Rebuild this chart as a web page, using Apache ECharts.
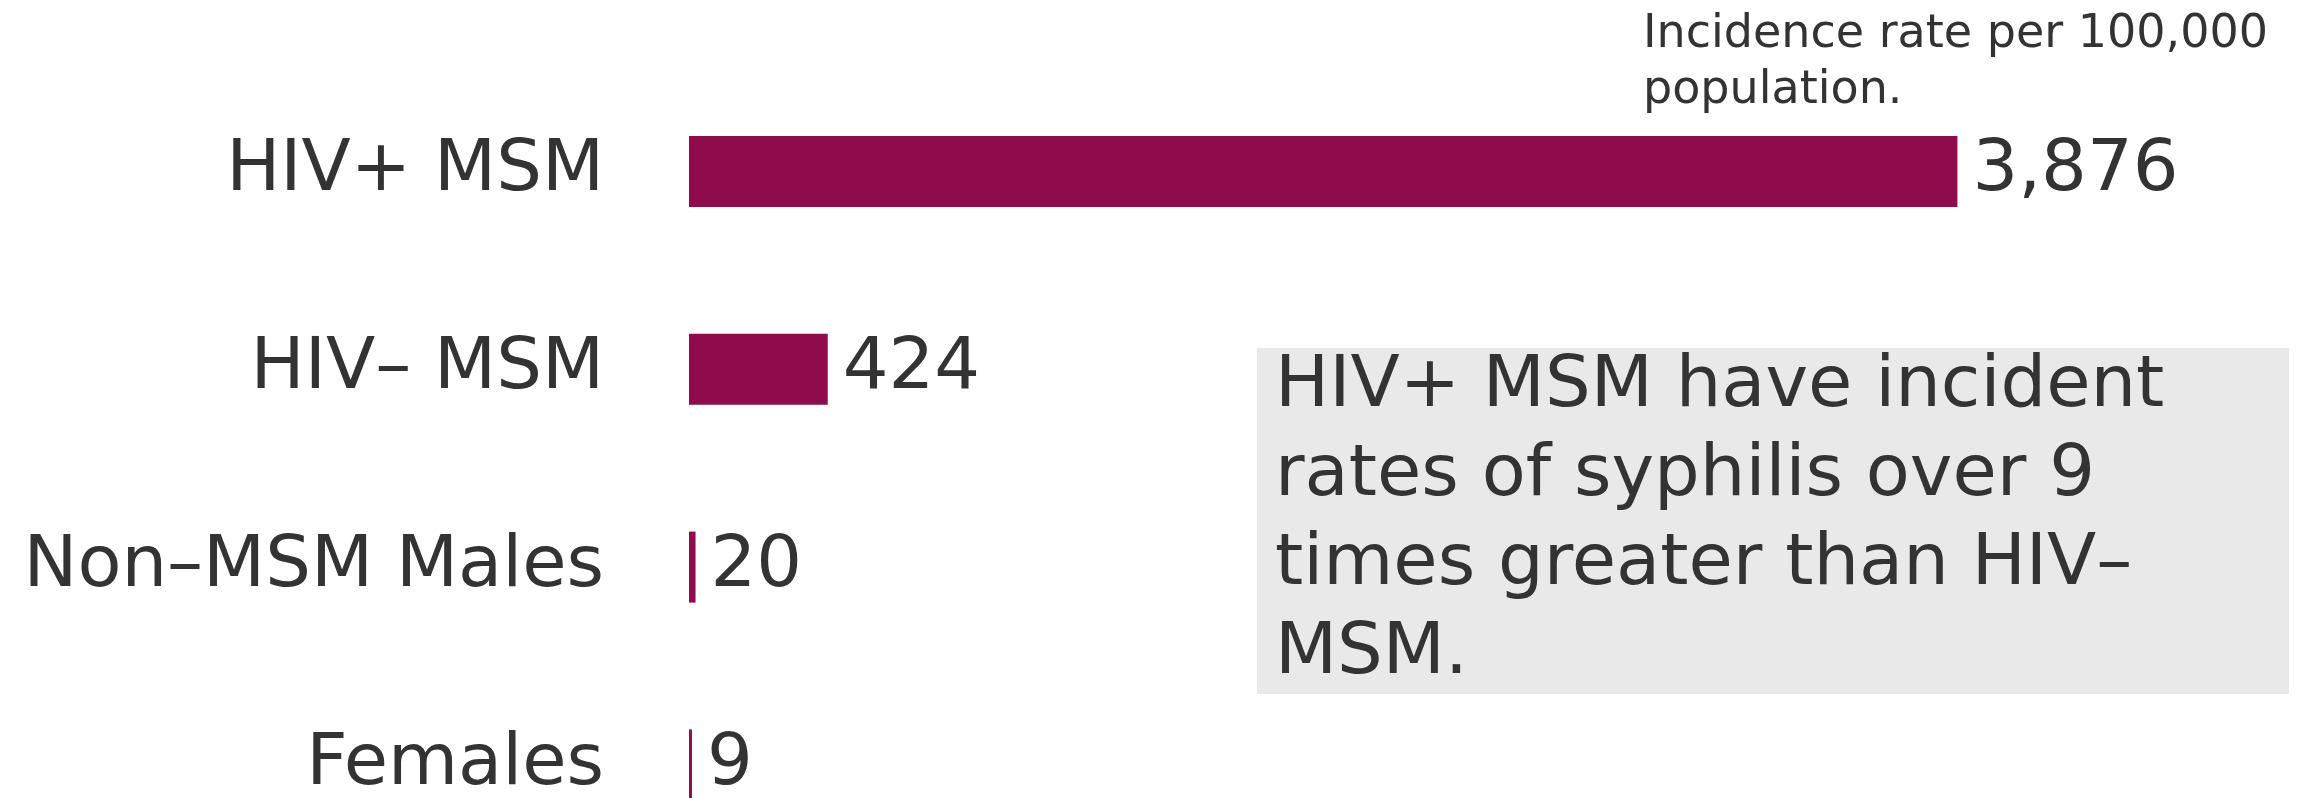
<!DOCTYPE html>
<html>
<head>
<meta charset="utf-8">
<script src="https://cdn.jsdelivr.net/npm/echarts@6/dist/echarts.min.js"></script>
<style>
  html, body { margin: 0; padding: 0; background: #ffffff; }
  #chart { width: 2300px; height: 798px; }
</style>
</head>
<body>
<div id="chart"></div>
<script>
// ---- data ----
const categories = ['HIV+ MSM', 'HIV– MSM', 'Non–MSM Males', 'Females'];
const incidence = [3876, 424, 20, 9];
const unitNote = 'Incidence rate per 100,000\npopulation.';
const calloutText = 'HIV+ MSM have incident\nrates of syphilis over 9\ntimes greater than HIV–\nMSM.';

const FONT = "'DejaVu Sans', Verdana, sans-serif";
const TEXT = '#333333';
const BAR = '#8e0c4b';

const chart = echarts.init(document.getElementById('chart'), null, { renderer: 'canvas' });

chart.setOption({
  backgroundColor: '#ffffff',
  animation: false,
  grid: {
    left: 689, right: 302, top: 72.6, height: 791.2,
    containLabel: false, outerBoundsMode: 'none'
  },
  xAxis: {
    type: 'value', min: 0, max: 4000, show: false,
    splitLine: { show: false }
  },
  yAxis: {
    type: 'category', data: categories, inverse: true,
    axisLine: { show: false }, axisTick: { show: false }, splitLine: { show: false },
    axisLabel: {
      margin: 85, fontSize: 72, fontFamily: FONT, color: TEXT,
      verticalAlign: 'middle', padding: [0, 0, 20, 0]
    }
  },
  series: [{
    type: 'bar',
    data: incidence,
    barWidth: 71,
    itemStyle: { color: BAR },
    label: {
      show: true, position: 'right', distance: 15,
      fontSize: 72, fontFamily: FONT, color: TEXT,
      formatter: p => Number(p.value).toLocaleString('en-US')
    }
  }],
  graphic: [
    {
      type: 'text', left: 1643, top: 7,
      style: { text: unitNote, font: '46px ' + FONT, fill: TEXT, lineHeight: 56 }
    },
    {
      type: 'rect', shape: { x: 1257, y: 348, width: 1032, height: 346 },
      style: { fill: '#e9e9e9' }
    },
    {
      type: 'text', left: 1275, top: 343,
      style: { text: calloutText, font: '72px ' + FONT, fill: TEXT, lineHeight: 89 }
    }
  ]
});
</script>
</body>
</html>
